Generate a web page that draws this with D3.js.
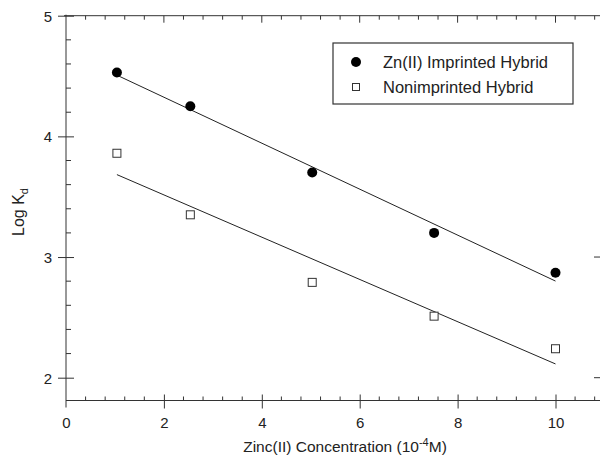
<!DOCTYPE html>
<html>
<head>
<meta charset="utf-8">
<script src="https://cdn.jsdelivr.net/npm/d3@7"></script>
<style>
  body { margin: 0; background: #fff; }
  svg { display: block; font-family: "Liberation Sans", Arial, sans-serif; }
  .axis path { display: none; }
  .axis line, .frame { stroke: #333; stroke-width: 1; }
  .axis text { font-size: 15px; fill: #222; }
</style>
</head>
<body>
<svg width="600" height="462"></svg>
<script>
// Data
var concentration = [1.04, 2.54, 5.03, 7.52, 10.0];
var imprinted = [4.53, 4.25, 3.70, 3.20, 2.87];
var nonimprinted = [3.86, 3.35, 2.79, 2.51, 2.24];
var xTicks = [0, 2, 4, 6, 8, 10];
var yTicks = [2, 3, 4, 5];
var seriesNames = ['Zn(II) Imprinted Hybrid', 'Nonimprinted Hybrid'];

var svg = d3.select('svg');

// scales (x axis runs off the right edge of the picture)
var x = d3.scaleLinear().domain([0, 10]).range([66, 555.5]);
var y = d3.scaleLinear().domain([2, 5]).range([377.7, 15.7]);
var x0 = x(0), x1 = 600;
var yBottom = 400.5, yTop = y(5);

// minor tick values
var xMinor = d3.range(1, 28).map(function (i) { return i * 0.4; })
  .filter(function (v) { return Math.abs(v / 2 - Math.round(v / 2)) > 1e-6 && x(v) < x1; });
var yMinor = d3.range(0, 16).map(function (i) { return 2 - 0.2 + i * 0.2; })
  .filter(function (v) { return Math.abs(v - Math.round(v)) > 1e-6 && y(v) < yBottom && v < 5; });

// frame lines
svg.append('line').attr('class', 'frame')
  .attr('x1', x0).attr('x2', x1).attr('y1', yBottom).attr('y2', yBottom);
svg.append('line').attr('class', 'frame')
  .attr('x1', x0 - 2).attr('x2', x1).attr('y1', yTop).attr('y2', yTop);
svg.append('line').attr('class', 'frame')
  .attr('x1', x0).attr('x2', x0).attr('y1', yTop - 1).attr('y2', yBottom + 7);

// bottom axis: major ticks cross the line
var bottom = svg.append('g')
  .attr('class', 'axis')
  .attr('transform', 'translate(0,' + yBottom + ')')
  .call(d3.axisBottom(x).tickValues(xTicks).tickSize(8).tickPadding(9).tickFormat(d3.format('d')));
bottom.selectAll('.tick line').attr('y1', -6);
bottom.selectAll('.tick line')
  .filter(function (d) { return d === 0; }).remove();

svg.append('g').selectAll('line')
  .data(xMinor)
  .enter()
  .append('line')
  .attr('class', 'frame')
  .attr('x1', function (d) { return x(d); })
  .attr('x2', function (d) { return x(d); })
  .attr('y1', yBottom - 4)
  .attr('y2', yBottom);

// top axis: ticks point down
svg.append('g').selectAll('line')
  .data(xTicks.slice(1))
  .enter()
  .append('line')
  .attr('class', 'frame')
  .attr('x1', function (d) { return x(d); })
  .attr('x2', function (d) { return x(d); })
  .attr('y1', yTop)
  .attr('y2', yTop + 7);
svg.append('g').selectAll('line')
  .data(xMinor)
  .enter()
  .append('line')
  .attr('class', 'frame')
  .attr('x1', function (d) { return x(d); })
  .attr('x2', function (d) { return x(d); })
  .attr('y1', yTop)
  .attr('y2', yTop + 4);

// left axis: major ticks cross, minor ticks inside
var left = svg.append('g')
  .attr('class', 'axis')
  .attr('transform', 'translate(' + x0 + ',0)')
  .call(d3.axisLeft(y).tickValues(yTicks).tickSize(8).tickPadding(6).tickFormat(d3.format('d')));
left.selectAll('.tick line').attr('x1', 8);
left.selectAll('.tick text').attr('dy', '0.36em');

svg.append('g').selectAll('line')
  .data(yMinor)
  .enter()
  .append('line')
  .attr('class', 'frame')
  .attr('x1', x0)
  .attr('x2', x0 + 5)
  .attr('y1', function (d) { return y(d); })
  .attr('y2', function (d) { return y(d); });

// right axis ticks visible at the picture edge
svg.append('g').selectAll('line')
  .data([2, 3])
  .enter()
  .append('line')
  .attr('class', 'frame')
  .attr('x1', x1 - 6)
  .attr('x2', x1)
  .attr('y1', function (d) { return y(d); })
  .attr('y2', function (d) { return y(d); });

// axis titles
var xTitle = svg.append('text')
  .attr('x', 345)
  .attr('y', 452)
  .attr('text-anchor', 'middle')
  .style('font-size', '15.5px')
  .style('fill', '#222');
xTitle.append('tspan').text('Zinc(II) Concentration (10');
xTitle.append('tspan').attr('dy', -6).style('font-size', '11px').text('-4');
xTitle.append('tspan').attr('dy', 6).text('M)');

var yTitle = svg.append('text')
  .attr('transform', 'translate(24,212) rotate(-90)')
  .attr('text-anchor', 'middle')
  .style('font-size', '16px')
  .style('fill', '#222');
yTitle.append('tspan').text('Log K');
yTitle.append('tspan').attr('dy', 4).style('font-size', '11px').text('d');

// least squares fit lines through each series
function fit(xs, ys) {
  var mx = d3.mean(xs), my = d3.mean(ys);
  var sxy = d3.sum(xs, function (v, i) { return (v - mx) * (ys[i] - my); });
  var sxx = d3.sum(xs, function (v) { return (v - mx) * (v - mx); });
  var b = sxy / sxx;
  var ends = d3.extent(xs);
  return ends.map(function (v) { return [v, my + b * (v - mx)]; });
}

var line = d3.line()
  .x(function (d) { return x(d[0]); })
  .y(function (d) { return y(d[1]); });

[imprinted, nonimprinted].forEach(function (ys) {
  svg.append('path')
    .datum(fit(concentration, ys))
    .attr('d', line)
    .attr('fill', 'none')
    .attr('stroke', '#222')
    .attr('stroke-width', 1);
});

// points
svg.append('g').selectAll('circle')
  .data(concentration)
  .enter()
  .append('circle')
  .attr('cx', function (d) { return x(d); })
  .attr('cy', function (d, i) { return y(imprinted[i]); })
  .attr('r', 5)
  .attr('fill', '#000');

svg.append('g').selectAll('rect')
  .data(concentration)
  .enter()
  .append('rect')
  .attr('x', function (d) { return x(d) - 4; })
  .attr('y', function (d, i) { return y(nonimprinted[i]) - 4; })
  .attr('width', 8)
  .attr('height', 8)
  .attr('fill', '#fff')
  .attr('stroke', '#333')
  .attr('stroke-width', 1);

// legend
var legend = svg.append('g').attr('transform', 'translate(333,43)');
legend.append('rect')
  .attr('width', 240)
  .attr('height', 61)
  .attr('fill', '#fff')
  .attr('stroke', '#333')
  .attr('stroke-width', 1.2);
legend.append('circle')
  .attr('cx', 23).attr('cy', 19).attr('r', 5).attr('fill', '#000');
legend.append('rect')
  .attr('x', 19.5).attr('y', 40.5).attr('width', 7).attr('height', 7)
  .attr('fill', '#fff').attr('stroke', '#333');
legend.selectAll('text')
  .data(seriesNames)
  .enter()
  .append('text')
  .attr('x', 50)
  .attr('y', function (d, i) { return 19 + i * 25; })
  .attr('dy', '0.36em')
  .style('font-size', '16.5px')
  .style('fill', '#222')
  .text(function (d) { return d; });
</script>
</body>
</html>
